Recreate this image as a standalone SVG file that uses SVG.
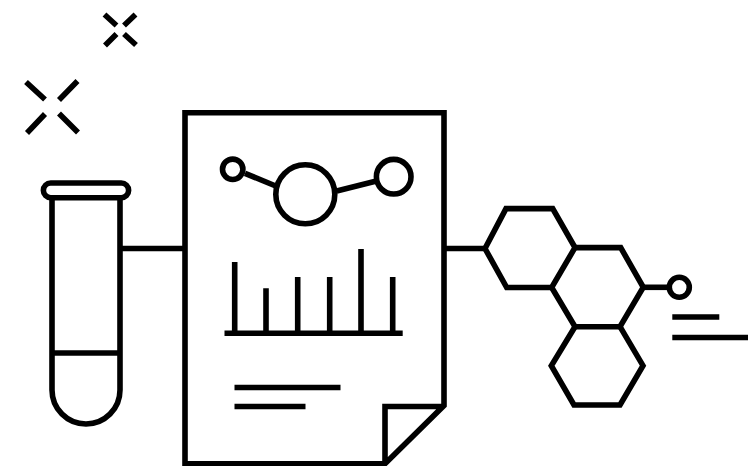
<svg xmlns="http://www.w3.org/2000/svg" width="748" height="466" viewBox="0 0 748 466">
<style>
.s{fill:none;stroke:#000;stroke-width:5.6;stroke-linejoin:miter}
</style>
<rect width="748" height="466" fill="#fff"/>
<g id="connectors" class="s">
<path d="M120 248.5H185"/>
<path d="M444 248.5H485"/>
<path d="M643 287.3H669"/>
<path d="M245 173.3L275.7 186"/>
<path d="M336.7 191L375.5 181.3"/>
</g>
<g id="sparkle-small" class="s">
<path d="M104.5 14.5L116.5 25.5M135.5 14.5L124 25.5M105 45.5L116.5 34M136 45L124 34"/>
</g>
<g id="sparkle-large" class="s">
<path d="M26 82L45 99.5M77.5 81L59 100M27 133L45 114M78 132.5L59 113.5"/>
</g>
<g id="test-tube" class="s">
<rect x="43.4" y="183" width="85.2" height="14.7" rx="7.3"/>
<path d="M52 197.5V390A34 34 0 0 0 120 390V197.5"/>
<path d="M52 353H120"/>
</g>
<g id="document" class="s">
<path d="M385 463.7H185V112.7H444V405.5L385 463.7V406.5H444"/>
<circle cx="232.7" cy="169.3" r="10.2"/>
<circle cx="305.3" cy="194.3" r="29.5"/>
<circle cx="393.7" cy="176.7" r="17.3"/>
<path d="M224.5 333.3H402.7"/>
<path d="M234.7 262V333M266 288.3V333M297.7 277V333M329.7 277V333M361 249V333M392.7 277V333"/>
<path d="M234.5 387.5H340.5M234.5 406.5H305.5"/>
</g>
<g id="molecule" class="s">
<path d="M485 248.5L506 208.6H552.7L575 247.6L551.7 287.5H506.7Z"/>
<path d="M575 247.6H620.7L643.3 287.3L620 326.7H575L551.7 287.5"/>
<path d="M575 326.7L551.3 365.7L574 405H620L643 365.7L620 326.7"/>
<circle cx="679.3" cy="287.3" r="10"/>
</g>
<g id="dashes" class="s">
<path d="M672.3 317H719.3M672.3 337.5H748"/>
</g>
</svg>
